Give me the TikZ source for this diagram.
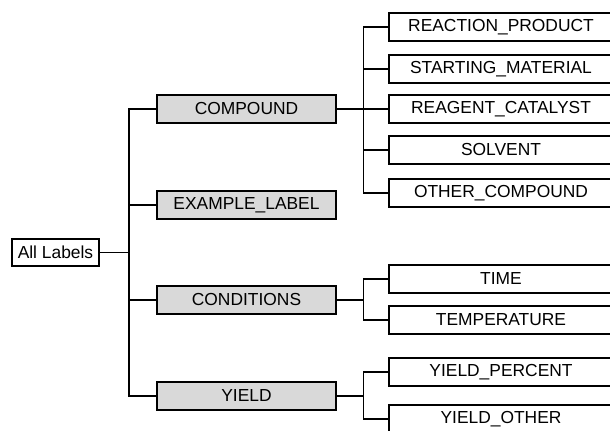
\documentclass[tikz,border=0pt]{standalone}
\usepackage{fontspec}
\setmainfont{Liberation Sans}
\usepackage{tikz}
\usetikzlibrary{positioning}

\tikzset{
  box/.style={draw, line width=0.75pt, inner sep=0pt, font=\fontsize{8.7}{10}\selectfont},
  rootbox/.style={box, minimum width=43.5pt, minimum height=13.5pt},
  catbox/.style={box, fill=gray!30, minimum width=89.5pt, minimum height=14pt},
  leafbox/.style={box, minimum width=112pt, minimum height=14pt},
  link/.style={draw, line width=0.75pt}
}

\begin{document}
\begin{tikzpicture}[x=0.5pt, y=-0.5pt]
  \useasboundingbox (0,0) rectangle (610,431);
  \clip (0,0) rectangle (610,431);

  % root and first level
  \node[rootbox] (root) at (55.5,252.5) {All Labels};
  \node[catbox] (compound) at (246.5,109) {COMPOUND};
  \node[catbox] (example) at (246.5,205) {EXAMPLE\_LABEL};
  \node[catbox] (conditions) at (246.5,300) {CONDITIONS};
  \node[catbox] (yield) at (246.5,396) {YIELD};

  % second level
  \node[leafbox] (product) at (501,27) {REACTION\_PRODUCT};
  \node[leafbox] (starting) at (501,69) {STARTING\_MATERIAL};
  \node[leafbox] (reagent) at (501,109) {REAGENT\_CATALYST};
  \node[leafbox] (solvent) at (501,150) {SOLVENT};
  \node[leafbox] (other) at (501,193) {OTHER\_COMPOUND};
  \node[leafbox] (time) at (501,279) {TIME};
  \node[leafbox] (temp) at (501,320) {TEMPERATURE};
  \node[leafbox] (percent) at (501,372) {YIELD\_PERCENT};
  \node[leafbox] (yother) at (501,419) {YIELD\_OTHER};

  % connectors
  \foreach \c in {compound,example,conditions,yield}
    \path[link] (root.east) -- ++(29,0) |- (\c.west);
  \foreach \c in {product,starting,reagent,solvent,other}
    \path[link] (compound.east) -- ++(26.5,0) |- (\c.west);
  \foreach \c in {time,temp}
    \path[link] (conditions.east) -- ++(26.5,0) |- (\c.west);
  \foreach \c in {percent,yother}
    \path[link] (yield.east) -- ++(26.5,0) |- (\c.west);
\end{tikzpicture}
\end{document}
